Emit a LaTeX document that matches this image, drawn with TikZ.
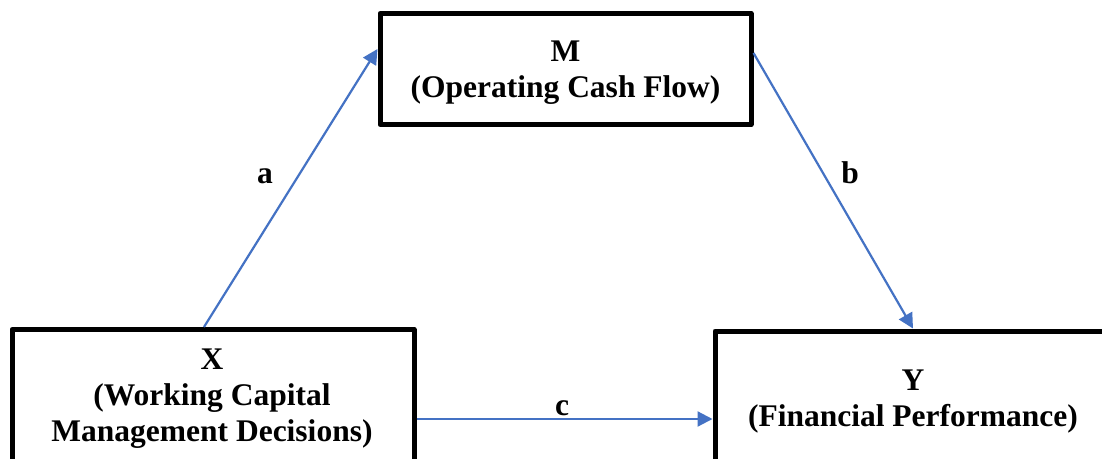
\documentclass[tikz,border=0pt]{standalone}
\usepackage{fontspec}
\setmainfont{Liberation Serif}
\usetikzlibrary{arrows.meta}
\definecolor{arrowblue}{HTML}{4472C4}
\begin{document}
\begin{tikzpicture}[x=1pt,y=-1pt,
  box/.style={draw=black, line width=5pt, line join=round, rectangle, inner sep=0pt, fill=white},
  txt/.style={align=center, font=\fontsize{31.5}{36}\selectfont\bfseries, inner sep=0pt},
  lbl/.style={font=\fontsize{31.5}{36}\selectfont\bfseries, inner sep=0pt, anchor=base},
  conn/.style={draw=arrowblue, line width=2.2pt, -{Triangle[length=15pt,width=15pt]}}]
\useasboundingbox[fill=white] (0,0) rectangle (1102,458);
\clip (0,0) rectangle (1102,458);
% boxes
\node[box, minimum width=371pt, minimum height=111pt] (M) at (565.5,69) {};
\node[box, minimum width=402pt, minimum height=179pt] (X) at (213,419) {};
\node[box, minimum width=396pt, minimum height=176pt] (Y) at (913,419) {};
% box texts (anchor=base is the last line's baseline)
\node[txt, anchor=base] (Mt) at (565.5,97) {M\\(Operating Cash Flow)};
\node[txt, anchor=base] (Xt) at (212,441) {X\\(Working Capital\\Management Decisions)};
\node[txt, anchor=base] (Yt) at (913,426) {Y\\(Financial Performance)};
% connectors
\draw[conn] ([xshift=-9pt]X.north) -- ([yshift=20pt]M.west);
\draw[conn] ([yshift=16pt]M.east) -- (Y.north);
\draw[conn] (X.east) -- (Y.west);
% labels
\node[lbl] (la) at (265,183) {a};
\node[lbl] (lb) at (850,183) {b};
\node[lbl] (lc) at (562,415) {c};
\end{tikzpicture}
\end{document}
